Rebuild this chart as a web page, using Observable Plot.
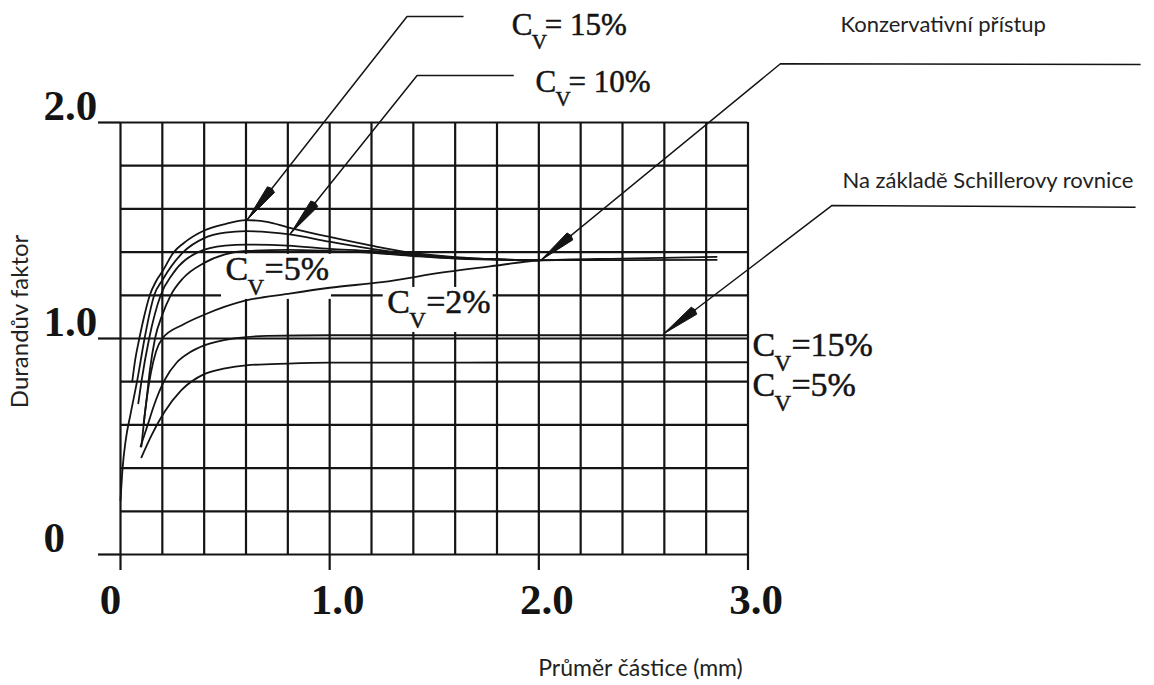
<!DOCTYPE html>
<html>
<head>
<meta charset="utf-8">
<script src="https://cdn.jsdelivr.net/npm/d3@7"></script>
<script src="https://cdn.jsdelivr.net/npm/@observablehq/plot@0.6"></script>
<style>
  html, body { margin: 0; padding: 0; background: #fff; }
  #chart svg { display: block; }
</style>
</head>
<body>
<div id="chart"></div>
<script>
// ---------- data (x = průměr částice [mm], y = Durandův faktor) ----------
const xGrid = [0, 0.2, 0.4, 0.6, 0.8, 1.0, 1.2, 1.4, 1.6, 1.8, 2.0, 2.2, 2.4, 2.6, 2.8, 3.0];
const yGrid = [0, 0.2, 0.4, 0.6, 0.8, 1.0, 1.2, 1.4, 1.6, 1.8, 2.0];
const xTicks = [0, 1, 2, 3];
const xTickLabels = ["0", "1.0", "2.0", "3.0"];
const yTicks = [0, 1, 2];
const yTickLabels = ["0", "1.0", "2.0"];

// conservative approach curves (upper group)
const u1X = [0.056, 0.07, 0.09, 0.115, 0.14, 0.17, 0.20, 0.255, 0.30, 0.40, 0.50, 0.60, 0.70, 0.80, 1.00, 1.20, 1.40, 1.60, 1.80, 2.00, 2.40, 2.85];
const u1Y = [0.80, 0.90, 1.00, 1.11, 1.20, 1.265, 1.31, 1.40, 1.44, 1.50, 1.53, 1.548, 1.54, 1.515, 1.47, 1.43, 1.396, 1.377, 1.367, 1.363, 1.363, 1.364];
const u2X = [0.00, 0.01, 0.025, 0.048, 0.08, 0.115, 0.14, 0.161, 0.20, 0.30, 0.40, 0.50, 0.60, 0.80, 1.00, 1.20, 1.40, 1.60, 1.80, 2.00];
const u2Y = [0.25, 0.40, 0.53, 0.65, 0.806, 1.00, 1.12, 1.20, 1.27, 1.40, 1.465, 1.49, 1.497, 1.483, 1.448, 1.415, 1.39, 1.374, 1.366, 1.362];
const u3X = [0.085, 0.10, 0.137, 0.192, 0.25, 0.372, 0.50, 0.60, 0.80, 1.00, 1.20, 1.40, 1.60, 2.00];
const u3Y = [0.70, 0.80, 1.00, 1.20, 1.30, 1.40, 1.43, 1.435, 1.43, 1.415, 1.405, 1.385, 1.372, 1.362];
const u4X = [0.11, 0.125, 0.14, 0.165, 0.20, 0.24, 0.30, 0.40, 0.50, 0.60, 0.80, 1.00, 1.20, 1.40, 1.60, 2.00];
const u4Y = [0.60, 0.72, 0.85, 1.00, 1.11, 1.20, 1.28, 1.35, 1.39, 1.405, 1.41, 1.405, 1.397, 1.382, 1.37, 1.362];
// C_V = 2 %
const d2X = [0.10, 0.12, 0.145, 0.17, 0.20, 0.30, 0.40, 0.60, 0.80, 1.00, 1.25, 1.55, 1.80, 2.00, 2.40, 2.85];
const d2Y = [0.50, 0.68, 0.84, 0.94, 1.00, 1.065, 1.11, 1.176, 1.207, 1.235, 1.261, 1.307, 1.338, 1.361, 1.370, 1.378];
// Schiller based curves
const s15X = [0.096, 0.13, 0.16, 0.21, 0.27, 0.33, 0.40, 0.54, 0.70, 1.00, 2.00, 3.00];
const s15Y = [0.50, 0.60, 0.69, 0.806, 0.89, 0.935, 0.968, 1.00, 1.012, 1.015, 1.015, 1.015];
const s5X = [0.10, 0.15, 0.21, 0.29, 0.40, 0.50, 0.60, 0.80, 1.00, 2.00, 3.00];
const s5Y = [0.45, 0.555, 0.66, 0.76, 0.835, 0.862, 0.876, 0.884, 0.888, 0.889, 0.890];

const seriesNames = ["u1", "u2", "u3", "u4", "d2", "s15", "s5"];
const seriesX = [u1X, u2X, u3X, u4X, d2X, s15X, s5X];
const seriesY = [u1Y, u2Y, u3Y, u4Y, d2Y, s15Y, s5Y];

// annotations (data units)
const leaderNames = ["cv15", "cv10", "konz", "schiller"];
const leaderX = [[1.640, 1.370, 0.607], [1.880, 1.418, 0.813], [4.877, 3.155, 2.008], [4.853, 3.402, 2.597]];
const leaderY = [[2.491, 2.491, 1.551], [2.218, 2.218, 1.486], [2.269, 2.272, 1.361], [1.608, 1.616, 1.022]];

const cvTopX = [1.871, 1.984];
const cvTopY = [2.403, 2.139];
const cvTopPost = ["= 15%", "= 10%"];
const cvInX = [0.502, 1.275, 3.021, 3.021];
const cvInY = [1.269, 1.116, 0.921, 0.736];
const cvInPost = ["=5%", "=2%", "=15%", "=5%"];

const noteText = ["Konzervativní přístup", "Na základě Schillerovy rovnice"];
const noteX = [3.442, 3.452];
const noteY = [2.417, 1.699];

const xTitle = "Průměr částice (mm)";
const yTitle = "Durandův faktor";

// ---------- layout ----------
const W = 1154, H = 685;
const mL = 120, mR = 406.5, mT = 122, mB = 131;
const kx = (W - mL - mR) / 3, ky = (H - mT - mB) / 2;
const toPx = (x, y) => [mL + kx * x, (H - mB) - ky * y];
const toData = (px, py) => [(px - mL) / kx, ((H - mB) - py) / ky];

const curves = seriesNames.flatMap((s, k) => seriesX[k].map((x, i) => ({s, x, y: seriesY[k][i]})));
const leaders = leaderNames.flatMap((s, k) => leaderX[k].map((x, i) => ({s, x, y: leaderY[k][i]})));
// arrowheads: narrow filled wedges at the end of each leader
const heads = leaderNames.flatMap((s, k) => {
  const n = leaderX[k].length;
  const [tx, ty] = toPx(leaderX[k][n - 1], leaderY[k][n - 1]);
  const [px, py] = toPx(leaderX[k][n - 2], leaderY[k][n - 2]);
  const len = Math.hypot(px - tx, py - ty);
  const ux = (px - tx) / len, uy = (py - ty) / len;
  const L = 38, hw = 4.5;
  const bx = tx + ux * L, by = ty + uy * L;
  const pts = [[tx, ty], [bx - uy * hw, by + ux * hw], [bx + ux * 1.5, by + uy * 1.5], [bx + uy * hw, by - ux * hw], [tx, ty]];
  return pts.map(([a, b]) => { const [x, y] = toData(a, b); return {s, x, y}; });
});

const cvTop = cvTopX.map((x, i) => ({x, y: cvTopY[i], post: cvTopPost[i]}));
const cvIn = cvInX.map((x, i) => ({x, y: cvInY[i], post: cvInPost[i]}));
const notes = noteText.map((t, i) => ({t, x: noteX[i], y: noteY[i]}));
// white boxes behind the two labels that sit inside the grid
const boxes = cvIn.filter(d => d.x < 3).map(d => {
  const [px, py] = toPx(d.x, d.y);
  const [x1, y1] = toData(px - 4, py + 19);
  const [x2, y2] = toData(px + 106, py - 26);
  return {x1, x2, y1, y2};
});

const serif = "Liberation Serif, Times New Roman, serif";
const sans = "Lato, Open Sans, sans-serif";
const ink = "#141414";

function cvParts(data, fs, o, tag) {
  const base = {x: "x", y: "y", textAnchor: "start", lineAnchor: "bottom", fontFamily: serif, fill: ink, stroke: ink, strokeWidth: 0.5};
  return [
    Plot.text(data, {...base, text: () => "C", fontSize: fs}),
    Plot.text(data, {...base, text: () => "V", fontSize: o.vfs, dx: o.vdx, dy: o.vdy}),
    Plot.text(data, {...base, text: "post", fontSize: fs, dx: o.pdx, ariaLabel: tag})
  ];
}
const topOpt = {vfs: 21, vdx: 20, vdy: 14, pdx: 33};
const inOpt = {vfs: 23, vdx: 22, vdy: 15, pdx: 39};

const chart = Plot.plot({
  width: W, height: H,
  marginLeft: mL, marginRight: mR, marginTop: mT, marginBottom: mB,
  x: {domain: [0, 3], axis: null},
  y: {domain: [0, 2], axis: null},
  marks: [
    // grid
    Plot.ruleX(xGrid, {x: d => d, y1: 0, y2: 2, stroke: ink, strokeWidth: 2.2}),
    Plot.ruleY(yGrid, {y: d => d, x1: 0, x2: 3, stroke: ink, strokeWidth: 2.2}),
    // tick extensions
    Plot.ruleY(yTicks, {y: d => d, x1: -0.105, x2: 0, stroke: ink, strokeWidth: 2.2}),
    Plot.ruleX(xTicks, {x: d => d, y1: -0.074, y2: 0, stroke: ink, strokeWidth: 2.2}),
    // white boxes behind inner labels
    Plot.rect(boxes, {x1: "x1", x2: "x2", y1: "y1", y2: "y2", fill: "white"}),
    // curves
    Plot.line(curves, {x: "x", y: "y", z: "s", curve: "monotone-x", stroke: ink, strokeWidth: 1.8}),
    // leaders and arrowheads
    Plot.line(leaders, {x: "x", y: "y", z: "s", stroke: ink, strokeWidth: 1.5, strokeLinecap: "butt"}),
    Plot.line(heads, {x: "x", y: "y", z: "s", fill: ink, stroke: ink, strokeWidth: 1}),
    // C_V labels
    ...cvParts(cvTop, 31, topOpt, "cv-top-post"),
    ...cvParts(cvIn, 34, inOpt, "cv-in-post"),
    // notes
    Plot.text(notes, {x: "x", y: "y", text: "t", textAnchor: "start", lineAnchor: "bottom", fontFamily: sans, fontSize: 22, fill: "#222"}),
    // tick labels
    Plot.text(xTicks, {filter: d => d === 0, x: d => d, y: 0, text: (d, i) => xTickLabels[xTicks.indexOf(d)], dx: -10, dy: 59, lineAnchor: "bottom", fontFamily: serif, fontWeight: "bold", fontSize: 43, fill: ink}),
    Plot.text(xTicks, {filter: d => d > 0, x: d => d, y: 0, text: d => xTickLabels[xTicks.indexOf(d)], dx: 8, dy: 59, lineAnchor: "bottom", fontFamily: serif, fontWeight: "bold", fontSize: 43, fill: ink}),
    Plot.text(yTicks, {x: -0.368, y: d => d, text: d => yTickLabels[yTicks.indexOf(d)], textAnchor: "start", dy: -3, lineAnchor: "bottom", fontFamily: serif, fontWeight: "bold", fontSize: 43, fill: ink}),
    // axis titles
    Plot.text([xTitle], {x: 2.486, y: -0.528, text: d => d, fontFamily: sans, fontSize: 23, fill: "#222"}),
    Plot.text([yTitle], {x: -0.478, y: 1.079, text: d => d, rotate: -90, fontFamily: sans, fontSize: 24, fill: "#222"})
  ]
});
// stretch the top C_V labels horizontally as in the original figure
d3.select(chart).selectAll('g[aria-label="cv-top-post"] text')
  .attr("textLength", 102).attr("lengthAdjust", "spacingAndGlyphs");
document.getElementById("chart").appendChild(chart);
</script>
</body>
</html>
